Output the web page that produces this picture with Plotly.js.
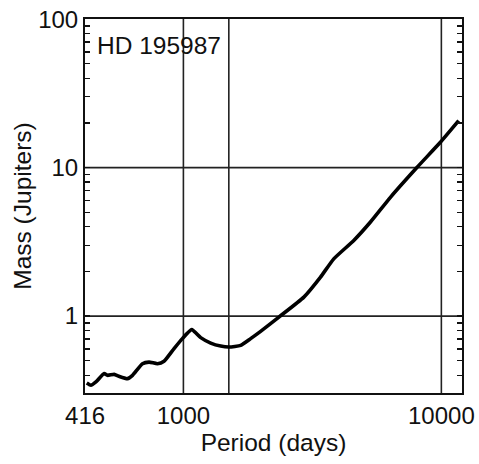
<!DOCTYPE html>
<html>
<head>
<meta charset="utf-8">
<script src="https://cdn.plot.ly/plotly-3.0.1.min.js"></script>
<style>html,body{margin:0;padding:0;background:#fff;}#chart{width:479px;height:464px;}</style>
</head>
<body>
<div id="chart"></div>
<script>
// Period (days) and minimum mass (Jupiter masses)
const periods = [422, 438, 458, 493, 508, 539, 563, 607, 635, 694, 736, 793, 841, 920, 991, 1077, 1167, 1276, 1395, 1502, 1667, 1822, 1992, 2345, 2931, 3401, 3828, 4576, 5311, 6347, 8054, 9911, 11670];
const masses  = [0.354, 0.342, 0.360, 0.410, 0.399, 0.405, 0.393, 0.379, 0.399, 0.478, 0.490, 0.478, 0.496, 0.604, 0.705, 0.810, 0.716, 0.658, 0.628, 0.619, 0.635, 0.705, 0.789, 0.985, 1.342, 1.83, 2.43, 3.23, 4.30, 6.31, 10.05, 14.8, 20.7];

const starName = "HD 195987";
const xTickVals = [416, 1000, 10000];
const xTickText = ["416", "1000", "10000"];
const yTickVals = [0.4,0.5,0.6,0.7,0.8,0.9,1,2,3,4,5,6,7,8,9,10,20,30,40,50,60,70,80,90,100];
const yTickText = yTickVals.map(v => (v === 1 || v === 10 || v === 100) ? String(v) : "");
const vLinePeriods = [1000, 1500, 10000];
const hLineMasses = [1, 10];

const shapes = [];
vLinePeriods.forEach(p => shapes.push({type:'line', xref:'x', yref:'paper', x0:p, x1:p, y0:0, y1:1, line:{color:'#222', width:1.6}, layer:'below'}));
hLineMasses.forEach(m => shapes.push({type:'line', xref:'paper', yref:'y', x0:0, x1:1, y0:m, y1:m, line:{color:'#222', width:1.6}, layer:'below'}));

const font = "Liberation Sans, Arial, Helvetica, sans-serif";

Plotly.newPlot('chart', [{
  x: periods, y: masses, type:'scatter', mode:'lines',
  line:{color:'#000', width:3.6, shape:'spline', smoothing:0.5},
  hoverinfo:'skip'
}], {
  width:479, height:464,
  margin:{l:85, r:17.3, t:19, b:71.3},
  paper_bgcolor:'#fff', plot_bgcolor:'#fff',
  showlegend:false,
  font:{family:font, color:'#000'},
  xaxis:{
    type:'log', range:[Math.log10(415.5), 4.080],
    tickvals:xTickVals, ticktext:xTickText, ticks:'',
    tickfont:{size:24, family:font, color:'#111'},
    ticklabelstandoff:0,
    showgrid:false, zeroline:false,
    showline:true, linecolor:'#111', linewidth:2, mirror:true,
    title:{text:'Period (days)', font:{size:24.5, family:font, color:'#111'}, standoff:1},
    automargin:false
  },
  yaxis:{
    type:'log', range:[-0.518, 2.0008],
    tickvals:yTickVals, ticktext:yTickText,
    ticks:'inside', ticklen:5, tickwidth:1.3, tickcolor:'#111',
    tickfont:{size:24, family:font, color:'#111'},
    showgrid:false, zeroline:false,
    showline:true, linecolor:'#111', linewidth:2, mirror:'ticks',
    title:{text:'Mass (Jupiters)', font:{size:24.5, family:font, color:'#111'}, standoff:0},
    automargin:false
  },
  shapes: shapes,
  annotations:[{
    text: starName, xref:'paper', yref:'paper', x:0.026, y:0.93,
    xanchor:'left', yanchor:'middle', showarrow:false,
    font:{size:24.5, family:font, color:'#111'}
  }]
}, {displayModeBar:false, staticPlot:true});
</script>
</body>
</html>
